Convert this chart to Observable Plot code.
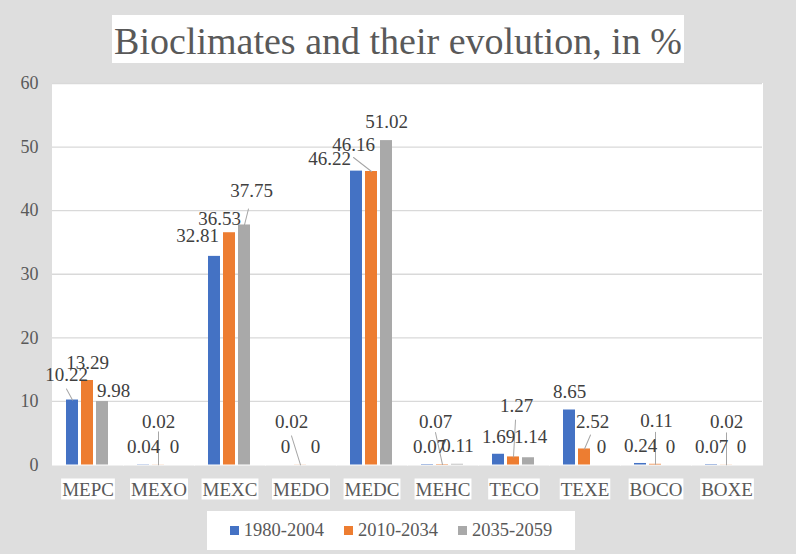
<!DOCTYPE html>
<html><head><meta charset="utf-8">
<script src="https://cdn.jsdelivr.net/npm/d3@7"></script>
<script src="https://cdn.jsdelivr.net/npm/@observablehq/plot@0.6"></script>
<style>
body{margin:0;background:#dedede;}
#wrap{position:relative;width:796px;height:554px;overflow:hidden;background:#dedede;font-family:"Liberation Serif","Times New Roman",serif;}
#chart{position:absolute;left:0;top:0;}
#title{position:absolute;left:112px;top:15px;width:572px;height:48px;background:#fff;color:#595959;font-size:38px;line-height:53px;text-align:center;white-space:nowrap;overflow:hidden;}
#legend{position:absolute;left:207px;top:511px;width:368px;height:39px;background:#fff;display:flex;align-items:center;justify-content:center;gap:20px;font-size:18.5px;color:#595959;}
#legend .it{display:flex;align-items:center;}
#legend .sw{display:inline-block;width:9px;height:9px;margin-right:5px;}
</style></head>
<body>
<div id="wrap">
  <div id="chart"></div>
  <div id="title">Bioclimates and their evolution, in %</div>
  <div id="legend"></div>
</div>
<script>
// ---- data ----
const categories = ["MEPC","MEXO","MEXC","MEDO","MEDC","MEHC","TECO","TEXE","BOCO","BOXE"];
const series = ["1980-2004","2010-2034","2035-2059"];
const v1980 = [10.22, 0.04, 32.81, 0, 46.22, 0.07, 1.69, 8.65, 0.24, 0.07];
const v2010 = [13.29, 0.02, 36.53, 0.02, 46.16, 0.07, 1.27, 2.52, 0.11, 0.02];
const v2035 = [9.98, 0, 37.75, 0, 51.02, 0.11, 1.14, 0, 0, 0];
const yTicks = [0, 10, 20, 30, 40, 50, 60];
const colors = ["#4472c4", "#ed7d31", "#a9a9a9"];

// ---- label layout (pixel nudges from bar top, and leader line ends) ----
const nudge1980 = [[-6,-25],[0,-18],[-17,-20],[0,-18],[-27,-12],[2,-18],[0,-17],[0,-18],[0,-18],[0,-18]];
const nudge2010 = [[0,-18],[0,-43],[-10,-14],[-9,-43],[-18,-27],[-7,-43],[3,-51],[8,-27],[1,-43],[0,-43]];
const nudge2035 = [[11,-11],[1,-18],[7,-34],[0,-18],[0,-19],[0,-18],[2,-21],[2,-18],[0,-18],[0,-18]];
const leader1980 = [[-6,-11],null,null,null,null,null,null,null,null,null];
const leader2010 = [null,[0,-33],null,[-9,-29],[-18,-14],[-7,-32],[2,-37],[6,-14],[0,-32],[0,-32]];
const leader2035 = [null,null,[4,-16],null,null,null,null,null,null,null];

const values = [v1980, v2010, v2035];
const nudges = [nudge1980, nudge2010, nudge2035];
const leaders = [leader1980, leader2010, leader2035];

const rows = categories.flatMap((c, i) => series.map((s, k) => ({
  cat: c, series: s, value: values[k][i], nudge: nudges[k][i], leader: leaders[k][i]
})));

const leaderShape = {draw(context, l) { context.moveTo(0, 0); context.lineTo(0, -l); }};

const labelMarks = rows.map(r => Plot.text([r], {
  fx: "cat", x: "series", y: "value", text: d => String(d.value),
  dx: r.nudge[0], dy: r.nudge[1], fill: "#404040", fontSize: 19,
  fontFamily: "Liberation Serif", textAnchor: "middle", lineAnchor: "middle"
}));
const leaderMarks = rows.filter(r => r.leader).map(r => Plot.vector([r], {
  fx: "cat", x: "series", y: "value",
  length: Math.hypot(r.leader[0], r.leader[1]),
  rotate: Math.atan2(r.leader[0], -r.leader[1]) * 180 / Math.PI,
  anchor: "start", shape: leaderShape, stroke: "#a6a6a6", strokeWidth: 1
}));

const chart = Plot.plot({
  width: 796, height: 554,
  marginLeft: 47, marginRight: 30, marginTop: 83, marginBottom: 89.5,
  style: {background: "transparent", fontFamily: "Liberation Serif", fontSize: "18px", color: "#595959", overflow: "visible"},
  fx: {domain: categories, paddingInner: 0, paddingOuter: 0, axis: "bottom", tickSize: 0, tickPadding: 17, label: null},
  x: {domain: series, paddingInner: 0.1875, paddingOuter: 0.84, axis: null},
  y: {domain: [0, 60], ticks: yTicks, tickSize: 0, tickPadding: 14, label: null},
  color: {domain: series, range: colors},
  marks: [
    Plot.frame({fill: "white", stroke: "white", strokeWidth: 1}),
    Plot.ruleY(yTicks.filter(t => t > 0), {stroke: "#d9d9d9", strokeWidth: 1.3}),
    Plot.barY(rows, {fx: "cat", x: "series", y: "value", fill: "series"}),
    ...leaderMarks,
    ...labelMarks
  ]
});
document.getElementById("chart").appendChild(chart);

// white boxes behind category labels (and slightly larger label font)
const catSet = new Set(categories);
chart.querySelectorAll("text").forEach(t => {
  if (!catSet.has(t.textContent)) return;
  t.setAttribute("font-size", "19");
  const b = t.getBBox();
  const rect = document.createElementNS("http://www.w3.org/2000/svg", "rect");
  rect.setAttribute("x", b.x - 1);
  rect.setAttribute("y", b.y);
  rect.setAttribute("width", b.width + 2);
  rect.setAttribute("height", b.height);
  rect.setAttribute("fill", "white");
  if (t.getAttribute("transform")) rect.setAttribute("transform", t.getAttribute("transform"));
  t.parentNode.insertBefore(rect, t);
});

// legend
const legend = document.getElementById("legend");
series.forEach((s, k) => {
  const it = document.createElement("span");
  it.className = "it";
  const sw = document.createElement("span");
  sw.className = "sw";
  sw.style.background = colors[k];
  it.appendChild(sw);
  it.appendChild(document.createTextNode(s));
  legend.appendChild(it);
});
</script>
</body></html>
